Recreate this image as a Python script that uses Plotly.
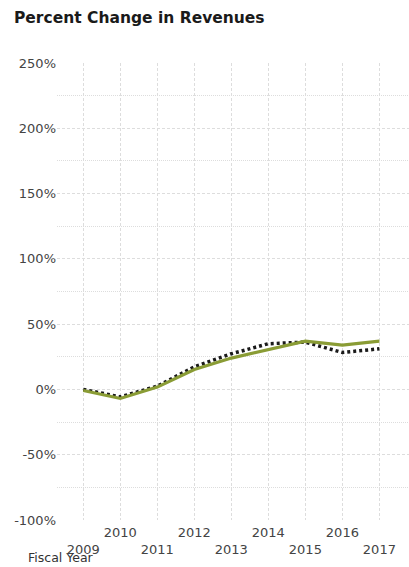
import plotly.graph_objects as go

years = [2009, 2010, 2011, 2012, 2013, 2014, 2015, 2016, 2017]
green_vals = [-0.8, -6.9, 1.8, 15.3, 24.0, 30.6, 37.0, 34.0, 37.0]
black_vals = [0.0, -5.7, 2.5, 17.3, 27.3, 35.0, 36.2, 28.3, 31.1]
y_ticks = [-100, -50, 0, 50, 100, 150, 200, 250]
y_labels = ["-100%", "-50%", "0%", "50%", "100%", "150%", "200%", "250%"]
x_labels = [("<br>" + str(y)) if y % 2 else str(y) for y in years]

fig = go.Figure()
fig.add_trace(go.Scatter(x=years, y=black_vals, mode="lines",
                         line=dict(color="#1a1a1a", width=3.5, dash="3px,3px"),
                         showlegend=False))
fig.add_trace(go.Scatter(x=years, y=green_vals, mode="lines",
                         line=dict(color="#8a9c35", width=3.2),
                         showlegend=False))

fig.update_layout(
    width=409, height=567,
    margin=dict(l=57, r=0, t=63, b=47),
    plot_bgcolor="white", paper_bgcolor="white",
    font=dict(family="DejaVu Sans", size=13, color="#444444"),
    title=dict(text="<b>Percent Change in Revenues</b>", x=14/409, xanchor="left",
               xref="container", y=1-18/567, yanchor="middle", yref="container",
               font=dict(size=15.5, color="#1a1a1a", family="DejaVu Sans")),
    xaxis=dict(range=[2008.29, 2017.8], tickvals=years, ticktext=x_labels,
               showgrid=True, gridcolor="#dddddd", griddash="3px,2px", gridwidth=1,
               zeroline=False, showline=False, ticks="", tickangle=0,
               ticklabelstandoff=3,
               tickfont=dict(size=13, color="#444444")),
    yaxis=dict(range=[-100, 250], tickvals=y_ticks, ticktext=y_labels,
               showgrid=True, gridcolor="#dddddd", griddash="3px,2px", gridwidth=1,
               zeroline=False, showline=False, ticks="",
               minor=dict(tickvals=[-75, -25, 25, 75, 125, 175, 225], showgrid=True,
                          gridcolor="#dddddd", griddash="1px,1px", gridwidth=1),
               tickfont=dict(size=13, color="#444444")),
    annotations=[dict(text="Fiscal Year", x=(27-57)/352, y=(520-566)/457,
                      xref="paper", yref="paper",
                      xanchor="left", yanchor="bottom", showarrow=False,
                      borderpad=0,
                      font=dict(size=12.5, color="#333333"))],
)
fig.write_html("out.html")
